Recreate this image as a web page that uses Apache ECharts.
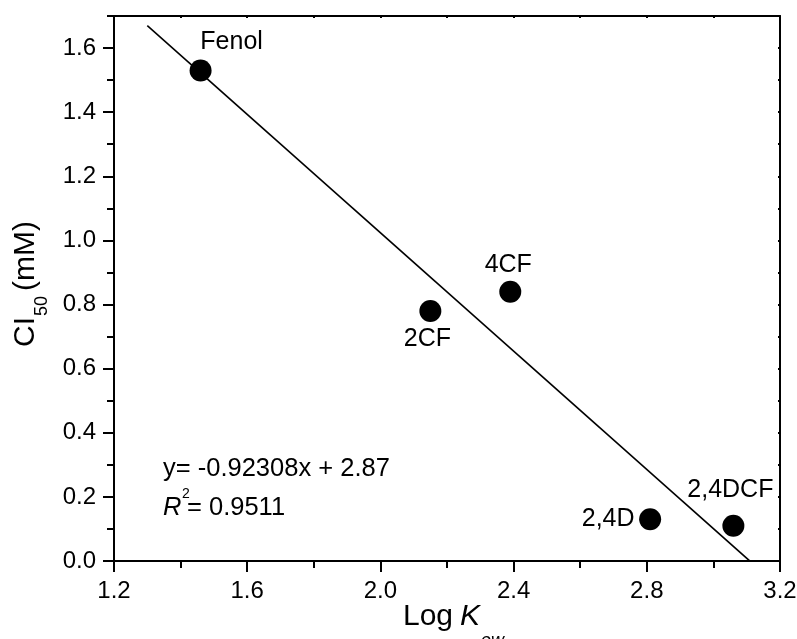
<!DOCTYPE html>
<html>
<head>
<meta charset="utf-8">
<script src="https://cdn.jsdelivr.net/npm/echarts@6/dist/echarts.min.js"></script>
<style>html,body{margin:0;padding:0;background:#fff}#c{width:797px;height:639px}</style>
</head>
<body>
<div id="c"></div>
<script>
// ---- data ----
var compounds = ['Fenol', '2CF', '4CF', '2,4D', '2,4DCF'];
var logKow = [1.46, 2.15, 2.39, 2.81, 3.06];
var ci50 = [1.53, 0.78, 0.84, 0.13, 0.11];
var fitSlope = -0.92308;
var fitIntercept = 2.87;
var fitXRange = [1.3, 3.109];
var xTickLabels = [1.2, 1.6, 2.0, 2.4, 2.8, 3.2];
var yTickLabels = [0.0, 0.2, 0.4, 0.6, 0.8, 1.0, 1.2, 1.4, 1.6];

// ---- build ----
var FONT = '"Liberation Sans", Arial, sans-serif';
var labelOffsets = [[31, -28], [-3, 28], [-2, -27], [-42, 0], [-3, -36]];
var pts = compounds.map(function (n, i) {
  return { name: n, value: [logKow[i], ci50[i]], label: { offset: labelOffsets[i] } };
});
var fitData = fitXRange.map(function (x) { return [x, fitSlope * x + fitIntercept]; });

var black = '#000';
function txt(x, y, text, font) {
  return { type: 'text', x: x, y: y, style: { text: text, fill: black, font: font, align: 'left', verticalAlign: 'middle', textAlign: 'left', textVerticalAlign: 'middle' } };
}
var chart = echarts.init(document.getElementById('c'), null, { renderer: 'canvas' });
chart.setOption({
  animation: false,
  backgroundColor: '#fff',
  grid: { left: 114, right: 17, top: 16, bottom: 78, containLabel: false, outerBoundsMode: 'none' },
  xAxis: [
    {
      type: 'value', position: 'bottom', min: 1.2, max: 3.2, interval: 0.4,
      axisLine: { show: true, onZero: false, lineStyle: { color: black, width: 2 } },
      axisTick: { show: true, inside: false, length: 11, lineStyle: { color: black, width: 2 } },
      minorTick: { show: true, splitNumber: 2, length: 7, lineStyle: { color: black, width: 2 } },
      axisLabel: { show: true, margin: 18, color: black, fontSize: 24, fontFamily: FONT,
        customValues: xTickLabels, formatter: function (v) { return v.toFixed(1); } },
      splitLine: { show: false }
    },
    {
      type: 'value', position: 'top', min: 1.2, max: 3.2, interval: 0.2,
      axisLine: { show: true, onZero: false, lineStyle: { color: black, width: 2 } },
      axisTick: { show: true, inside: true, length: 2, lineStyle: { color: black, width: 2 } },
      axisLabel: { show: false }, splitLine: { show: false }
    }
  ],
  yAxis: [
    {
      type: 'value', position: 'left', min: 0, max: 1.7, interval: 0.1,
      axisLine: { show: true, onZero: false, lineStyle: { color: black, width: 2 } },
      axisTick: { show: true, inside: false, length: 7, lineStyle: { color: black, width: 2 } },
      axisLabel: { show: true, margin: 18, color: black, fontSize: 24, fontFamily: FONT,
        customValues: yTickLabels, formatter: function (v) { return v.toFixed(1); } },
      splitLine: { show: false }
    },
    {
      type: 'value', position: 'left', min: 0, max: 1.7, interval: 0.1,
      axisLine: { show: false, onZero: false },
      axisTick: { show: true, inside: false, length: 11, customValues: yTickLabels, lineStyle: { color: black, width: 2 } },
      axisLabel: { show: false }, splitLine: { show: false }
    },
    {
      type: 'value', position: 'right', min: 0, max: 1.7, interval: 0.1,
      axisLine: { show: true, onZero: false, lineStyle: { color: black, width: 2 } },
      axisTick: { show: true, inside: true, length: 2, lineStyle: { color: black, width: 2 } },
      axisLabel: { show: false }, splitLine: { show: false }
    }
  ],
  series: [
    {
      type: 'line', xAxisIndex: 0, yAxisIndex: 0, data: fitData, symbol: 'none',
      lineStyle: { color: black, width: 1.6 }, silent: true, z: 2
    },
    {
      type: 'scatter', xAxisIndex: 0, yAxisIndex: 0, data: pts, symbol: 'circle', symbolSize: 22,
      itemStyle: { color: black, opacity: 1 }, z: 3,
      label: { show: true, position: 'inside', color: black, opacity: 1, fontSize: 25, fontFamily: FONT,
        formatter: function (p) { return p.name; } }
    }
  ],
  graphic: [
    txt(163, 469, 'y= -0.92308x + 2.87', '25.5px ' + FONT),
    txt(163, 508, 'R', 'italic 25.5px ' + FONT),
    txt(182, 494, '2', '14px ' + FONT),
    txt(187, 508, '= 0.9511', '25.5px ' + FONT),
    txt(403, 617, 'Log', '30px ' + FONT),
    txt(460, 617, 'K', 'italic 30px ' + FONT),
    txt(481, 641, 'ow', 'italic 18px ' + FONT),
    {
      type: 'group', x: 26, y: 347, rotation: Math.PI / 2,
      children: [
        txt(0, 0, 'CI', '30px ' + FONT),
        txt(31, 16, '50', '18px ' + FONT),
        txt(56, 0, '(mM)', '30px ' + FONT)
      ]
    }
  ]
});
</script>
</body>
</html>
